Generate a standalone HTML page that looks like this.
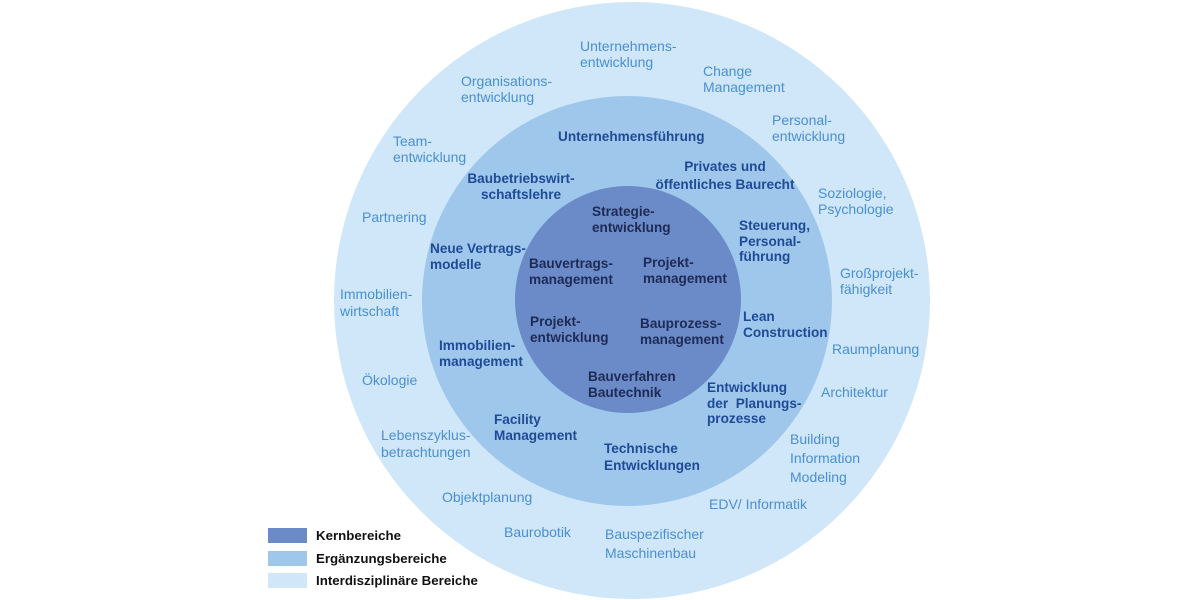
<!DOCTYPE html>
<html><head><meta charset="utf-8"><style>
html,body{margin:0;padding:0;}
body{width:1200px;height:600px;position:relative;background:#fff;overflow:hidden;font-family:"Liberation Sans",sans-serif;}
.c{position:absolute;border-radius:50%;}
.t{position:absolute;white-space:nowrap;line-height:15.5px;}
.o{color:#4a8fd3;font-size:14px;}
.m{color:#1f4a96;font-size:13.6px;font-weight:bold;}
.i{color:#1e2a55;font-size:13.6px;font-weight:bold;}
.ctr{text-align:center;}
.sq{position:absolute;left:268px;width:39px;height:15px;}
.lg{position:absolute;left:316px;font-size:13.3px;font-weight:bold;color:#111;line-height:15px;}
</style></head><body>
<div class="c" style="left:334px;top:2px;width:596px;height:597px;background:#cfe7f8;"></div>
<div class="c" style="left:422px;top:96px;width:410px;height:410px;background:#9fc7ec;"></div>
<div class="c" style="left:515px;top:186px;width:226px;height:227px;background:#6a8bc8;"></div>

<div class="t o" style="left:580px;top:39px;">Unternehmens-<br>entwicklung</div>
<div class="t o" style="left:461px;top:74px;">Organisations-<br>entwicklung</div>
<div class="t o" style="left:703px;top:64px;">Change<br>Management</div>
<div class="t o" style="left:772px;top:113px;">Personal-<br>entwicklung</div>
<div class="t o" style="left:393px;top:134px;">Team-<br>entwicklung</div>
<div class="t o" style="left:818px;top:186px;">Soziologie,<br>Psychologie</div>
<div class="t o" style="left:362px;top:210px;">Partnering</div>
<div class="t o" style="left:840px;top:266px;">Großprojekt-<br>fähigkeit</div>
<div class="t o" style="left:340px;top:286px;line-height:17px;">Immobilien-<br>wirtschaft</div>
<div class="t o" style="left:832px;top:342px;">Raumplanung</div>
<div class="t o" style="left:362px;top:373px;">Ökologie</div>
<div class="t o" style="left:821px;top:385px;">Architektur</div>
<div class="t o" style="left:381px;top:427px;line-height:17px;">Lebenszyklus-<br>betrachtungen</div>
<div class="t o" style="left:790px;top:430px;line-height:19px;">Building<br>Information<br>Modeling</div>
<div class="t o" style="left:442px;top:490px;">Objektplanung</div>
<div class="t o" style="left:709px;top:497px;">EDV/ Informatik</div>
<div class="t o" style="left:504px;top:525px;">Baurobotik</div>
<div class="t o" style="left:605px;top:525px;line-height:19px;">Bauspezifischer<br>Maschinenbau</div>

<div class="t m" style="left:558px;top:129px;">Unternehmensführung</div>
<div class="t m ctr" style="left:648px;top:158px;width:154px;line-height:18px;">Privates und<br>öffentliches Baurecht</div>
<div class="t m ctr" style="left:464px;top:171px;width:114px;">Baubetriebswirt-<br>schaftslehre</div>
<div class="t m" style="left:739px;top:218px;">Steuerung,<br>Personal-<br>führung</div>
<div class="t m" style="left:430px;top:241px;">Neue Vertrags-<br>modelle</div>
<div class="t m" style="left:743px;top:309px;">Lean<br>Construction</div>
<div class="t m" style="left:439px;top:338px;">Immobilien-<br>management</div>
<div class="t m" style="left:707px;top:380px;">Entwicklung<br>der&nbsp; Planungs-<br>prozesse</div>
<div class="t m" style="left:494px;top:412px;">Facility<br>Management</div>
<div class="t m" style="left:604px;top:440px;line-height:17px;">Technische<br>Entwicklungen</div>

<div class="t i" style="left:592px;top:204px;">Strategie-<br>entwicklung</div>
<div class="t i" style="left:529px;top:256px;">Bauvertrags-<br>management</div>
<div class="t i" style="left:643px;top:255px;">Projekt-<br>management</div>
<div class="t i" style="left:530px;top:314px;">Projekt-<br>entwicklung</div>
<div class="t i" style="left:640px;top:316px;">Bauprozess-<br>management</div>
<div class="t i" style="left:588px;top:369px;">Bauverfahren<br>Bautechnik</div>

<div class="sq" style="top:528px;background:#6a8bc8;"></div>
<div class="sq" style="top:551px;background:#9fc7ec;"></div>
<div class="sq" style="top:573px;background:#cfe7f8;"></div>
<div class="lg" style="top:528px;">Kernbereiche</div>
<div class="lg" style="top:551px;">Ergänzungsbereiche</div>
<div class="lg" style="top:573px;">Interdisziplinäre Bereiche</div>
</body></html>
